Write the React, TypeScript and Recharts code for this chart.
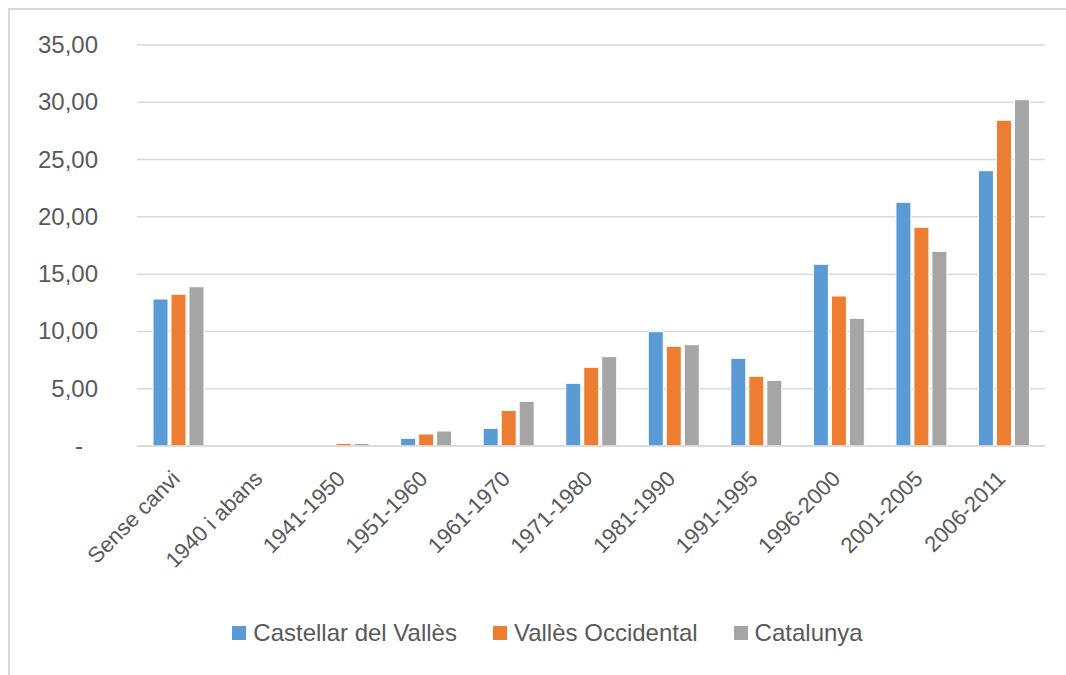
import { BarChart, Bar, XAxis, YAxis, CartesianGrid, Legend } from 'recharts'

const categories = [
  'Sense canvi',
  '1940 i abans',
  '1941-1950',
  '1951-1960',
  '1961-1970',
  '1971-1980',
  '1981-1990',
  '1991-1995',
  '1996-2000',
  '2001-2005',
  '2006-2011',
]
const castellar = [12.83, 0, 0, 0.67, 1.54, 5.47, 9.98, 7.65, 15.86, 21.27, 24.03]
const vallesOcc = [13.24, 0, 0.22, 1.05, 3.1, 6.87, 8.7, 6.08, 13.09, 19.09, 28.43]
const catalunya = [13.9, 0, 0.22, 1.31, 3.9, 7.8, 8.84, 5.73, 11.14, 16.99, 30.23]
const yTicks = [0, 5, 10, 15, 20, 25, 30, 35]

const series = [
  { key: 'castellar', name: 'Castellar del Vallès', color: '#5b9bd5' },
  { key: 'valles', name: 'Vallès Occidental', color: '#ed7d31' },
  { key: 'catalunya', name: 'Catalunya', color: '#a5a5a5' },
]

const data = categories.map((c, i) => ({
  name: c,
  castellar: castellar[i],
  valles: vallesOcc[i],
  catalunya: catalunya[i],
}))

const FONT = '"Liberation Sans", Arial, sans-serif'
const TEXT = '#595959'

function formatTick(v: number): string {
  if (v === 0) return '-'
  return v.toFixed(2).replace('.', ',')
}

function YTick(props: any) {
  const { x, y, payload } = props
  const isZero = payload.value === 0
  return (
    <text
      x={isZero ? x - 15 : x}
      y={y}
      dy={8}
      textAnchor="end"
      fill={TEXT}
      fontSize={24}
      fontFamily={FONT}
    >
      {formatTick(payload.value)}
    </text>
  )
}

function XTick(props: any) {
  const { x, y, payload } = props
  const tx = x + 3
  const ty = y + 26
  return (
    <text
      x={tx}
      y={ty}
      textAnchor="end"
      transform={`rotate(-45, ${tx}, ${ty})`}
      fill={TEXT}
      fontSize={22}
      fontFamily={FONT}
    >
      {payload.value}
    </text>
  )
}

function LegendContent() {
  return (
    <div
      style={{
        display: 'flex',
        justifyContent: 'center',
        alignItems: 'center',
        height: 30,
        paddingLeft: 40,
        fontFamily: FONT,
        fontSize: 24,
        color: TEXT,
      }}
    >
      {series.map((s) => (
        <div key={s.key} style={{ display: 'flex', alignItems: 'center', margin: '0 18px' }}>
          <span
            style={{
              display: 'inline-block',
              width: 14,
              height: 14,
              background: s.color,
              marginRight: 7,
            }}
          />
          <span>{s.name}</span>
        </div>
      ))}
    </div>
  )
}

export default function App() {
  return (
    <div
      style={{
        position: 'fixed',
        left: 8,
        top: 8,
        right: 0,
        bottom: 0,
        borderTop: '2px solid #d9d9d9',
        borderLeft: '2px solid #d9d9d9',
        background: '#fff',
      }}
    >
      <BarChart
        width={1050}
        height={655}
        data={data}
        margin={{ top: 35, right: 15, left: 0, bottom: 17 }}
        barSize={15}
        barGap={3}
      >
        <CartesianGrid vertical={false} stroke="#d9d9d9" strokeWidth={1.5} />
        <XAxis
          dataKey="name"
          interval={0}
          height={172}
          tick={<XTick />}
          tickLine={false}
          axisLine={{ stroke: '#d9d9d9', strokeWidth: 1.5 }}
        />
        <YAxis
          domain={[0, 35]}
          ticks={yTicks}
          width={127}
          tickSize={0}
          tickMargin={39}
          tick={<YTick />}
          tickLine={false}
          axisLine={false}
        />
        <Legend verticalAlign="bottom" height={30} content={<LegendContent />} />
        {series.map((s) => (
          <Bar
            key={s.key}
            dataKey={s.key}
            name={s.name}
            fill={s.color}
            stroke="#ffffff"
            strokeWidth={1}
            isAnimationActive={false}
          />
        ))}
      </BarChart>
    </div>
  )
}
